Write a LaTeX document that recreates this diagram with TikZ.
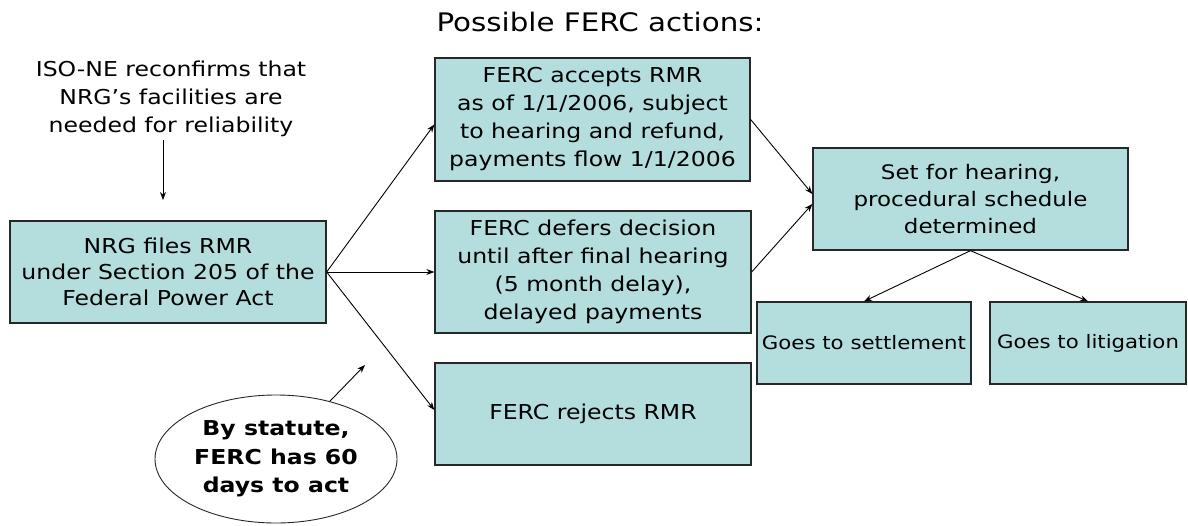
\documentclass[tikz,border=0pt]{standalone}
\usepackage{fontspec}
\setmainfont[FakeStretch=1.15]{DejaVu Sans}
\usetikzlibrary{shapes.geometric,arrows.meta}
\definecolor{boxfill}{RGB}{180,222,222}
\definecolor{boxline}{RGB}{40,40,40}
\tikzset{
  stepbox/.style={draw=boxline, line width=1.3pt, fill=boxfill, align=center,
    inner sep=0pt, font=\fontsize{20.5}{28}\selectfont},
  conn/.style={line width=0.9pt, -{Stealth[length=8pt,width=6pt]}},
  plain/.style={align=center, inner sep=0pt, font=\fontsize{20.5}{28}\selectfont}
}
\begin{document}
\begin{tikzpicture}[x=1pt,y=-1pt]
\useasboundingbox (0,0) rectangle (1188,525);
\node[plain, font=\fontsize{25.5}{30}\selectfont] (title) at (600,22) {Possible FERC actions:};
\node[plain] (iso) at (171,99) {ISO-NE reconfirms that\\NRG’s facilities are\\needed for reliability};
\node[stepbox, minimum width=316pt, minimum height=102pt, font=\fontsize{20.5}{26}\selectfont] (nrg) at (168,272) {NRG files RMR\\under Section 205 of the\\Federal Power Act};
\node[stepbox, minimum width=315pt, minimum height=123pt] (acc) at (592.5,119.5) {FERC accepts RMR\\as of 1/1/2006, subject\\to hearing and refund,\\payments flow 1/1/2006};
\node[stepbox, minimum width=316pt, minimum height=122pt] (def) at (593,272) {FERC defers decision\\until after final hearing\\(5 month delay),\\delayed payments};
\node[stepbox, minimum width=316pt, minimum height=102pt] (rej) at (593,414) {FERC rejects RMR};
\node[stepbox, minimum width=315pt, minimum height=102pt, font=\fontsize{20}{27}\selectfont] (hear) at (970.5,199) {Set for hearing,\\procedural schedule\\determined};
\node[stepbox, minimum width=214pt, minimum height=82pt, font=\fontsize{18.5}{24}\selectfont] (set) at (864,343) {Goes to settlement};
\node[stepbox, minimum width=196pt, minimum height=82pt, font=\fontsize{18.5}{24}\selectfont] (lit) at (1088,343) {Goes to litigation};
\node[draw=boxline, line width=0.9pt, ellipse, minimum width=242pt, minimum height=128pt, inner sep=0pt, align=center,
  font=\bfseries\fontsize{20.5}{28.5}\selectfont] (ell) at (276,459) {By statute,\\FERC has 60\\days to act};
\coordinate (isoend) at (163,200);
\coordinate (ellend) at (365,365);
\draw[conn] (iso.south -| isoend) ++(0,3) -- (isoend);
\draw[conn] (nrg.east) -- ([yshift=-5pt]acc.west);
\draw[conn] (nrg.east) -- (def.west);
\draw[conn] (nrg.east) -- ([yshift=4pt]rej.west);
\draw[conn] (acc.east) -- ([yshift=5pt]hear.west);
\draw[conn] (def.east) -- ([yshift=-5pt]hear.west);
\draw[conn] (hear.south) -- (set.north);
\draw[conn] (hear.south) -- (lit.north);
\draw[conn] (ell.47) -- (ellend);
\end{tikzpicture}
\end{document}
